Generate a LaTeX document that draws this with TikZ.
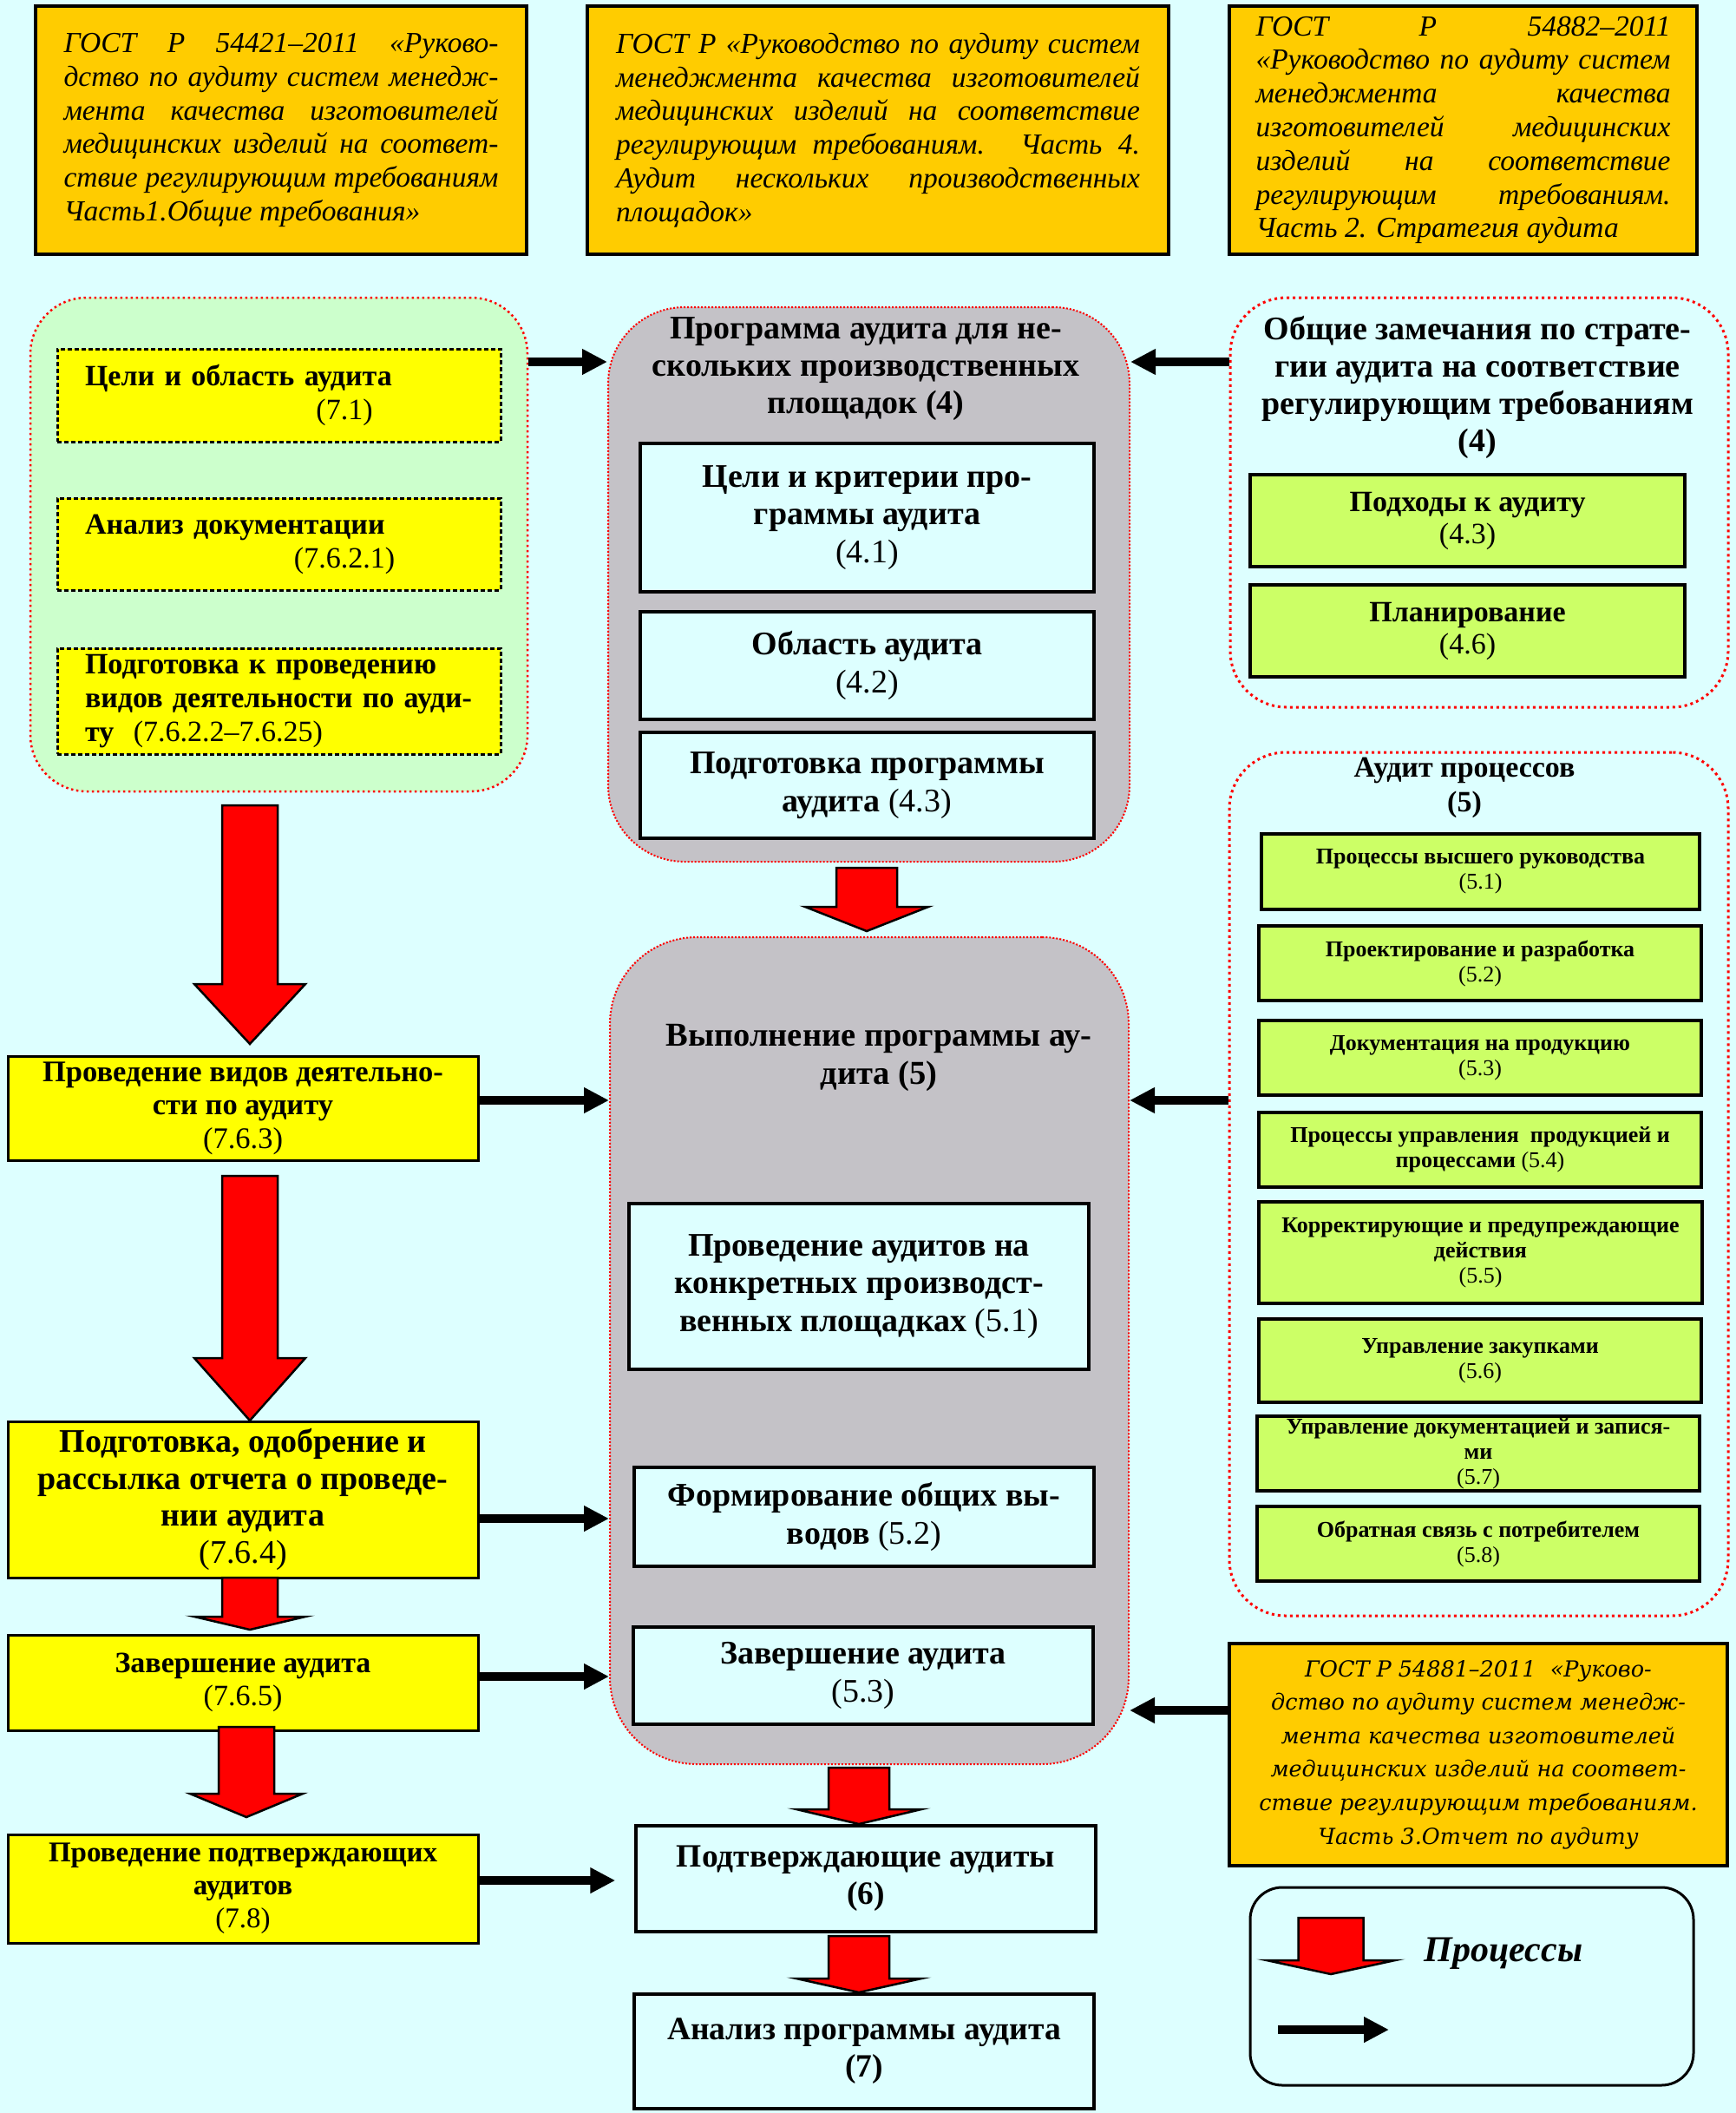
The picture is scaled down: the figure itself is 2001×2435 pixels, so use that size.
\documentclass[tikz,border=0pt]{standalone}
\usepackage{fontspec}
\setmainfont{Liberation Serif}
\newfontfamily\dvs{DejaVu Serif}
\usetikzlibrary{arrows.meta,calc}
\definecolor{bgc}{RGB}{221,255,255}
\definecolor{orng}{RGB}{255,204,0}
\definecolor{ylw}{RGB}{255,255,0}
\definecolor{lgrn}{RGB}{204,255,204}
\definecolor{gry}{RGB}{196,194,199}
\definecolor{lime}{RGB}{204,255,102}
\definecolor{rd}{RGB}{255,0,0}
\newcommand\fs[2]{\fontsize{#1}{#2}\selectfont}
\newcommand\jl[2]{\makebox[#1pt][s]{#2}}
\newcommand\BX[7]{\node[#2,minimum width={#5-#3},minimum height={#6-#4}] (#1) at ({(#3+#5)/2},{(#4+#6)/2}) {#7};}
\newcommand\RA[6]{\filldraw[redarr] ({#1-#4},#2) -- ({#1+#4},#2) -- ({#1+#4},{#3-#6}) -- ({#1+#5},{#3-#6}) -- (#1,#3) -- ({#1-#5},{#3-#6}) -- ({#1-#4},{#3-#6}) -- cycle;}
\tikzset{
 gost/.style={draw=black,line width=4.5pt,fill=orng,inner sep=0pt,font=\fs{33.5}{38.8}\itshape,align=left},
 grpG/.style={draw=rd,fill=lgrn,line width=2.5pt,dash pattern=on 2.5pt off 3.5pt,rounded corners=65pt},
 grpS/.style={draw=rd,fill=gry,line width=2pt,dash pattern=on 2pt off 2pt,rounded corners=88pt},
 grpW/.style={draw=rd,line width=3pt,dash pattern=on 3pt off 4pt,rounded corners=65pt},
 ydash/.style={draw=black,fill=ylw,line width=3pt,dash pattern=on 5pt off 3pt,inner sep=0pt,font=\fs{34}{39}\bfseries,align=left,text width=447pt},
 ybox/.style={draw=black,fill=ylw,line width=3pt,inner sep=0pt,align=center},
 cbox/.style={draw=black,fill=bgc,line width=3.5pt,inner sep=0pt,align=center,font=\fs{38}{43.5}\bfseries},
 lbox/.style={draw=black,fill=lime,line width=4pt,inner sep=0pt,align=center,font=\fs{34}{37}\bfseries},
 sbox/.style={draw=black,fill=lime,line width=3.5pt,inner sep=0pt,align=center,font=\fs{26}{29}\bfseries},
 ttl/.style={align=center,inner sep=0pt},
 blk/.style={line width=10pt,-{Triangle[length=29pt,width=28pt]}},
 redarr/.style={fill=rd,draw=black,line width=2.5pt,line join=miter},
 lgnd/.style={draw=black,line width=3pt,rounded corners=37pt},
}
\begin{document}
\begin{tikzpicture}[x=1pt,y=-1pt]
\path[fill=bgc] (0,0) rectangle (2001,2435);
\useasboundingbox (0,0) rectangle (2001,2435);

% top GOST boxes
\BX{gA}{gost}{41}{7}{607}{293}{\jl{501}{ГОСТ Р 54421–2011 «Руково-}\\\jl{501}{дство по аудиту систем менедж-}\\\jl{501}{мента качества изготовителей}\\\jl{501}{медицинских изделий на соответ-}\\\jl{501}{ствие регулирующим требованиям}\\Часть1.Общие требования»}
\BX{gB}{gost}{677}{7}{1347}{293}{\jl{604}{ГОСТ Р «Руководство по аудиту систем}\\\jl{604}{менеджмента качества изготовителей}\\\jl{604}{медицинских изделий на соответствие}\\\jl{604}{регулирующим требованиям. Часть 4.}\\\jl{604}{Аудит нескольких производственных}\\площадок»}
\BX{gC}{gost}{1417}{7}{1956}{293}{\jl{478}{ГОСТ Р 54882–2011}\\\jl{478}{«Руководство по аудиту систем}\\\jl{478}{менеджмента качества}\\\jl{478}{изготовителей медицинских}\\\jl{478}{изделий на соответствие}\\\jl{478}{регулирующим требованиям.}\\Часть 2. Стратегия аудита}

% groups
\BX{grpL}{grpG}{35}{343}{608}{912}{}
\BX{prog}{grpS}{701}{354}{1302}{993}{}
\BX{strat}{grpW}{1418}{343}{1992}{815}{}
\BX{proc}{grpW}{1417}{867}{1992}{1862}{}
\BX{exec}{grpS,rounded corners=100pt}{703}{1080}{1301}{2033}{}

% green group content
\BX{tA}{ydash}{66}{402}{577}{509}{Цели и область аудита\\\hspace*{299pt}\makebox[0pt]{\mdseries(7.1)}}
\BX{tB}{ydash}{66}{574}{577}{680}{Анализ документации\\\hspace*{299pt}\makebox[0pt]{\mdseries(7.6.2.1)}}
\BX{tC}{ydash}{66}{747}{577}{869}{\jl{447}{Подготовка к проведению}\\\jl{447}{видов деятельности по ауди-}\\ту\ \ {\mdseries(7.6.2.2–7.6.25)}}

% program group
\node[ttl,font=\fs{38}{43}\bfseries] (progT) at (998,425) {Программа аудита для не-\\скольких производственных\\площадок (4)};
\BX{p41}{cbox}{738}{511}{1261}{682}{Цели и критерии про-\\граммы аудита\\{\mdseries(4.1)}}
\BX{p42}{cbox}{738}{705}{1261}{829}{Область аудита\\{\mdseries(4.2)}}
\BX{p43}{cbox}{738}{844}{1261}{966}{Подготовка программы\\аудита {\mdseries(4.3)}}

% strategy group
\node[ttl,font=\fs{38}{43}\bfseries] (stratT) at (1703,446) {Общие замечания по страте-\\гии аудита на соответствие\\регулирующим требованиям\\(4)};
\BX{s43}{lbox}{1441}{547}{1942}{653}{Подходы к аудиту\\{\mdseries(4.3)}}
\BX{s46}{lbox}{1441}{674}{1942}{780}{Планирование\\{\mdseries(4.6)}}

% process audit group
\node[ttl,font=\fs{34}{40}\bfseries] (procT) at (1688,908) {Аудит процессов\\(5)};
\BX{s51}{sbox}{1454}{961}{1959}{1048}{Процессы высшего руководства\\{\mdseries(5.1)}}
\BX{s52}{sbox}{1451}{1067}{1961}{1153}{Проектирование и разработка\\{\mdseries(5.2)}}
\BX{s53}{sbox}{1451}{1176}{1961}{1262}{Документация на продукцию\\{\mdseries(5.3)}}
\BX{s54}{sbox}{1451}{1282}{1961}{1368}{Процессы управления\ \ продукцией и\\процессами {\mdseries(5.4)}}
\BX{s55}{sbox}{1451}{1385}{1962}{1502}{Корректирующие и предупреждающие\\действия\\{\mdseries(5.5)}}
\BX{s56}{sbox}{1451}{1520}{1961}{1616}{Управление закупками\\{\mdseries(5.6)}}
\BX{s57}{sbox}{1449}{1632}{1959}{1718}{Управление документацией и запися-\\ми\\{\mdseries(5.7)}}
\BX{s58}{sbox}{1449}{1736}{1959}{1822}{Обратная связь с потребителем\\{\mdseries(5.8)}}

% execution group
\node[ttl,font=\fs{38.5}{44}\bfseries] (execT) at (1013,1219) {Выполнение программы ау-\\дита (5)};
\BX{e51}{cbox}{725}{1387}{1255}{1578}{Проведение аудитов на\\конкретных производст-\\венных площадках {\mdseries(5.1)}}
\BX{e52}{cbox}{731}{1691}{1261}{1805}{Формирование общих вы-\\водов {\mdseries(5.2)}}
\BX{e53}{cbox}{730}{1875}{1260}{1987}{Завершение аудита\\{\mdseries(5.3)}}
\BX{aud6}{cbox,font=\fs{37.5}{43}\bfseries}{733}{2104}{1263}{2226}{Подтверждающие аудиты\\(6)}
\BX{an7}{cbox,font=\fs{37.5}{43}\bfseries}{731}{2298}{1261}{2430}{Анализ программы аудита\\(7)}

% left yellow boxes
\BX{vid}{ybox,font=\fs{34.5}{38.5}\bfseries}{9}{1217}{551}{1337}{Проведение видов деятельно-\\сти по аудиту\\{\mdseries(7.6.3)}}
\BX{rep}{ybox,font=\fs{38}{42.5}\bfseries}{9}{1638}{551}{1818}{Подготовка, одобрение и\\рассылка отчета о проведе-\\нии аудита\\{\mdseries(7.6.4)}}
\BX{fin}{ybox,font=\fs{34}{38}\bfseries}{9}{1884}{551}{1994}{Завершение аудита\\{\mdseries(7.6.5)}}
\BX{conf}{ybox,font=\fs{33}{38}\bfseries}{9}{2114}{551}{2239}{Проведение подтверждающих\\аудитов\\{\mdseries(7.8)}}

% GOST 54881
\BX{gD}{gost,font=\fs{25.5}{38.6}\dvs\itshape,align=center}{1417}{1894}{1991}{2150}{ГОСТ Р 54881–2011\ \ «Руково-\\дство по аудиту систем менедж-\\мента качества изготовителей\\медицинских изделий на соответ-\\ствие регулирующим требованиям.\\Часть 3.Отчет по аудиту}

% legend
\BX{lg}{lgnd}{1441}{2175}{1952}{2403}{}
\node[font=\fs{42}{48}\bfseries\itshape,inner sep=0pt] (lgT) at (1733,2251) {Процессы};
\coordinate (lgA) at (1473,2339);
\coordinate (lgB) at (1601,2339);
\draw[blk] (lgA) -- (lgB);

% red block arrows
\RA{288}{928}{1203}{32}{64}{69}
\RA{288}{1355}{1637}{32}{64}{72}
\RA{288}{1818}{1878}{32}{64}{15}
\RA{284}{1990}{2094}{32}{65}{27}
\RA{999}{1000}{1073}{35}{71}{28}
\RA{990}{2037}{2102}{35}{72}{17}
\RA{990}{2231}{2296}{35}{72}{16}
\RA{1534}{2210}{2275}{37.5}{74}{16}

% black connectors
\coordinate (yA) at (0,417);
\coordinate (yB) at (0,1268);
\coordinate (yC) at (0,1750);
\coordinate (yD) at (0,1932);
\coordinate (yE) at (0,1971);
\coordinate (yF) at (0,2167);
\draw[blk] (grpL.east |- yA) -- (prog.west |- yA);
\draw[blk] (strat.west |- yA) -- (prog.east |- yA);
\draw[blk] (vid.east |- yB) -- (exec.west |- yB);
\draw[blk] (proc.west |- yB) -- (exec.east |- yB);
\draw[blk] (rep.east |- yC) -- (exec.west |- yC);
\draw[blk] (fin.east |- yD) -- (exec.west |- yD);
\draw[blk] (gD.west |- yE) -- (exec.east |- yE);
\draw[blk] (conf.east |- yF) -- ($(aud6.west |- yF)+(-22,0)$);
\end{tikzpicture}
\end{document}
